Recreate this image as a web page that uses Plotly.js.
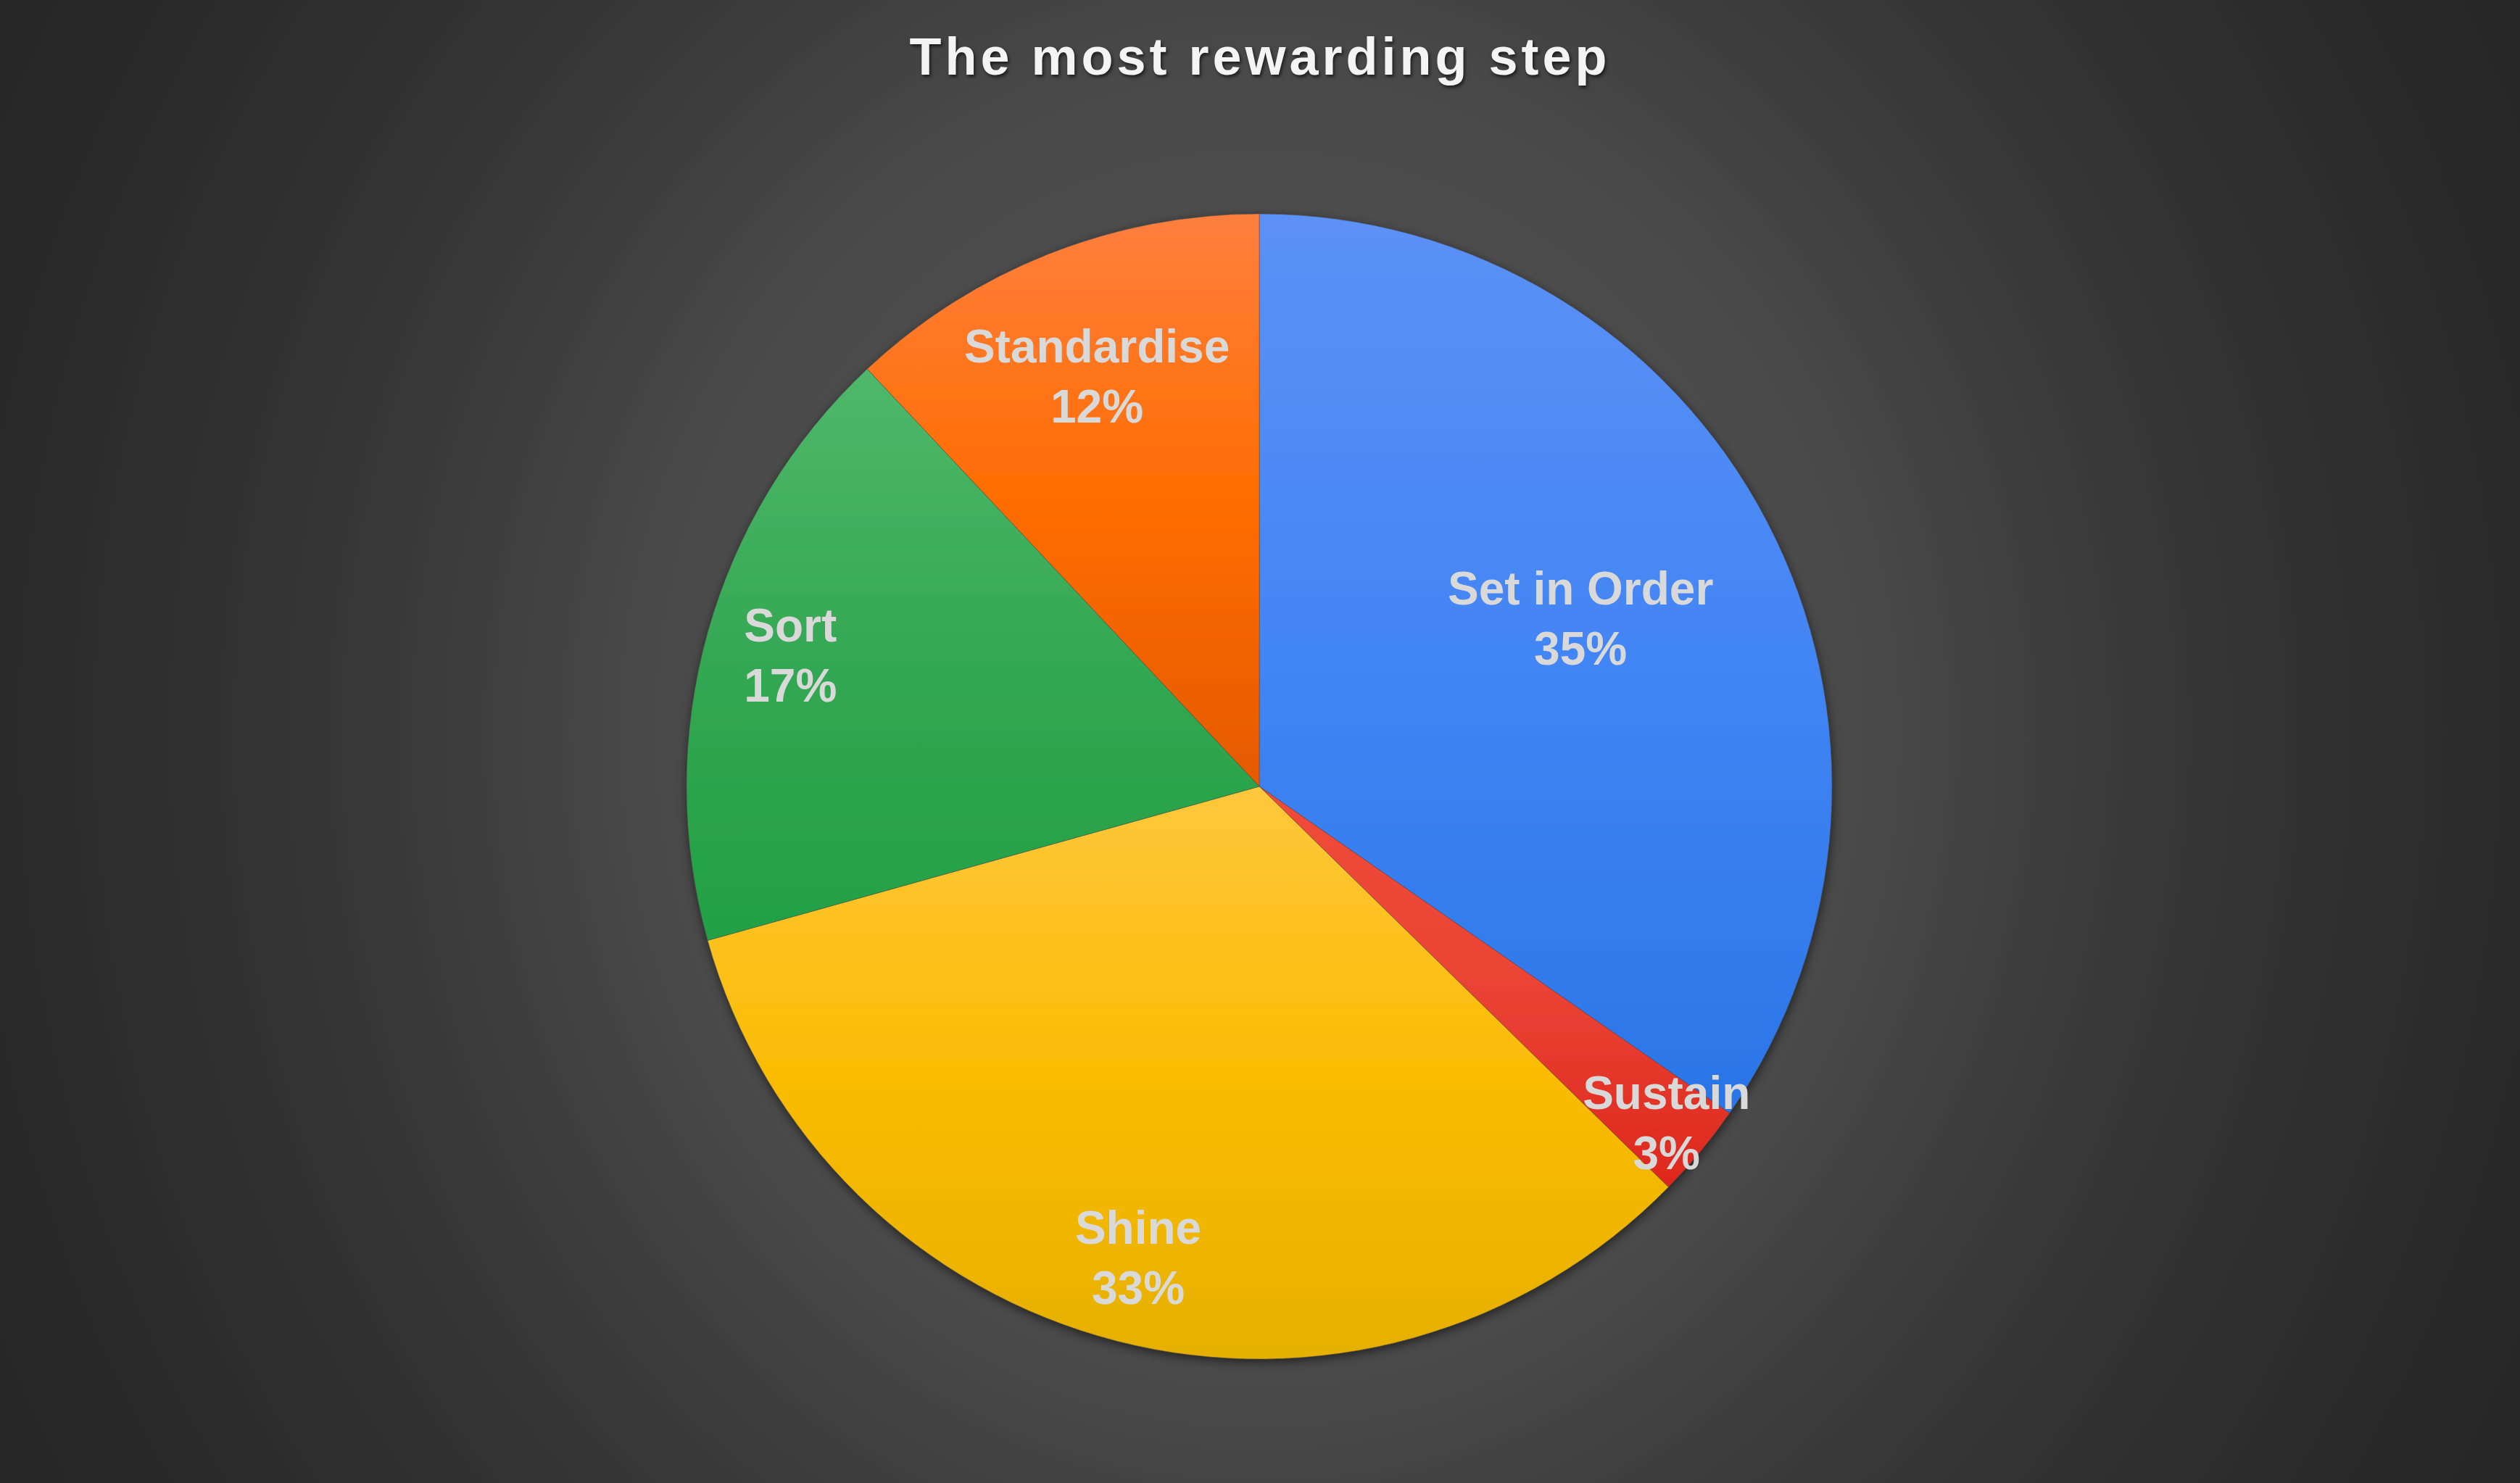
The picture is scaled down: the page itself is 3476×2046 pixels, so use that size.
<!DOCTYPE html>
<html>
<head>
<meta charset="utf-8">
<script src="https://cdn.plot.ly/plotly-3.0.1.min.js"></script>
<style>
html, body { margin: 0; padding: 0; background: #2a2a2a; overflow: hidden; }
#chart { width: 3476px; height: 2046px; }
.gtitle { letter-spacing: 5px; }
</style>
</head>
<body>
<svg width="0" height="0" style="position:absolute"><defs id="gdefs"></defs></svg>
<div id="chart"></div>
<script>
// ---- data ----
const labels = ['Set in Order', 'Sustain', 'Shine', 'Sort', 'Standardise'];
const values = [26, 2, 25, 13, 9];
const titleText = 'The most rewarding step';

// ---- styles ----
const colors = ['#4285f4', '#ea4335', '#fbbc04', '#34a853', '#ff6d01'];
const topColors = ['#5c91f6', '#f04b3a', '#ffc73c', '#4fb86b', '#ff7f3e'];
const bottomColors = ['#2a75e8', '#de271d', '#e6b000', '#22a045', '#e45a00'];
const labelRing = [0.266, 0.70, 0.70, 0.70, 0.54]; // hole used for label placement of each slice

const W = 3476, H = 2046;
const CX = 1737, CY = 1085, R = 790;
const FONT = 'Liberation Sans, Arial, Helvetica, sans-serif';

// gradient fills + shadow
let defsHtml = '';
let css = '';
colors.forEach((c, i) => {
  defsHtml += `<linearGradient id="sg${i}" x1="0" y1="0" x2="0" y2="1">
    <stop offset="0" stop-color="${topColors[i]}"/>
    <stop offset="0.5" stop-color="${c}"/>
    <stop offset="1" stop-color="${bottomColors[i]}"/></linearGradient>`;
  css += `.pielayer .trace:first-child .slice:nth-child(${i + 1}) path.surface{fill:url(#sg${i}) !important;}`;
});
defsHtml += `<filter id="pieshadow" x="-10%" y="-10%" width="120%" height="125%">
  <feDropShadow dx="1" dy="4" stdDeviation="7" flood-color="#000" flood-opacity="0.55"/></filter>`;
css += `.pielayer .trace:first-child{filter:url(#pieshadow);}`;
document.getElementById('gdefs').innerHTML = defsHtml;
const st = document.createElement('style');
st.textContent = css;
document.head.appendChild(st);

// background radial gradient
const bgSvg = `<svg xmlns="http://www.w3.org/2000/svg" width="${W}" height="${H}" viewBox="0 0 ${W} ${H}">
<defs><radialGradient id="bg" gradientUnits="userSpaceOnUse" cx="1738" cy="1010" r="2000"
 gradientTransform="translate(1738 1010) scale(1 1.087) translate(-1738 -1010)">
<stop offset="0" stop-color="#505050"/>
<stop offset="0.35" stop-color="#4c4c4c"/>
<stop offset="0.425" stop-color="#494949"/>
<stop offset="0.575" stop-color="#3b3b3b"/>
<stop offset="0.725" stop-color="#313131"/>
<stop offset="0.87" stop-color="#2a2a2a"/>
<stop offset="1" stop-color="#262626"/>
</radialGradient></defs>
<rect width="${W}" height="${H}" fill="url(#bg)"/></svg>`;
const bgSrc = 'data:image/svg+xml;charset=utf-8,' + encodeURIComponent(bgSvg);

const domain = {
  x: [(CX - R) / W, (CX + R) / W],
  y: [(H - CY - R) / H, (H - CY + R) / H]
};

const base = {
  type: 'pie',
  labels: labels,
  values: values,
  sort: false,
  direction: 'clockwise',
  rotation: 0,
  domain: domain,
  marker: { colors: colors, line: { color: 'rgba(70,70,70,0.45)', width: 1 } },
  textinfo: 'none',
  hoverinfo: 'label+percent',
  showlegend: false
};

const textFont = { family: FONT, size: 64, color: '#d9d9d9', weight: 'bold' };
const holes = [...new Set(labelRing)];
const overlays = holes.map(h => ({
  type: 'pie',
  labels: labels,
  values: values,
  sort: false,
  direction: 'clockwise',
  rotation: 0,
  hole: h,
  domain: domain,
  marker: { colors: labels.map(() => 'rgba(0,0,0,0)'), line: { width: 0 } },
  texttemplate: labelRing.map(v => v === h ? '%{label}<br>%{percent:.0%}' : ''),
  textposition: 'inside',
  insidetextorientation: 'horizontal',
  textfont: textFont,
  insidetextfont: textFont,
  hoverinfo: 'skip',
  showlegend: false
}));

const layout = {
  width: W,
  height: H,
  margin: { l: 0, r: 0, t: 0, b: 0, pad: 0 },
  paper_bgcolor: '#2a2a2a',
  plot_bgcolor: 'rgba(0,0,0,0)',
  showlegend: false,
  uniformtext: { mode: 'show', minsize: 64 },
  title: {
    text: titleText,
    font: { family: FONT, size: 72, color: '#f4f4f4', weight: 'bold', shadow: '2px 3px 4px rgba(0,0,0,0.6)' },
    x: 0.5, xref: 'paper', xanchor: 'center',
    y: 1 - 78 / H, yref: 'container', yanchor: 'middle'
  },
  images: [{
    source: bgSrc, xref: 'paper', yref: 'paper', x: 0, y: 1, sizex: 1, sizey: 1,
    sizing: 'stretch', xanchor: 'left', yanchor: 'top', layer: 'below'
  }]
};

Plotly.newPlot('chart', [base].concat(overlays), layout, { displayModeBar: false, staticPlot: true });
</script>
</body>
</html>
